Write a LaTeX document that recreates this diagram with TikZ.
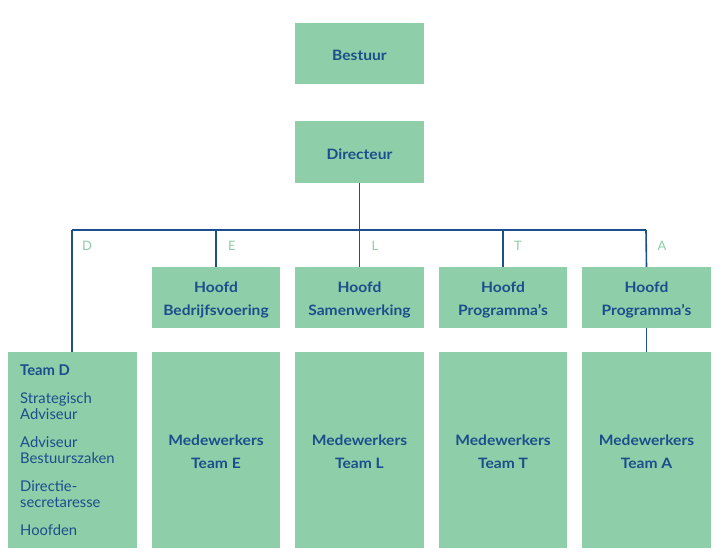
\documentclass[tikz,border=0pt]{standalone}
\usepackage{fontspec}
\setmainfont{Lato}
\newfontfamily\boxfont{Lato}[FakeStretch=1.09]
\definecolor{boxgreen}{RGB}{142,206,168}
\definecolor{navy}{RGB}{27,78,140}
\definecolor{lbl}{RGB}{140,205,165}
\begin{document}
\begin{tikzpicture}[x=1pt,y=-1pt,
  box/.style={fill=boxgreen,draw=none,inner sep=0pt},
  boxtext/.style={inner sep=0pt,text=navy,font=\boxfont\fontsize{14.3}{23}\selectfont\bfseries,align=center},
  conn/.style={draw=navy,line width=1.6pt},
  tag/.style={text=lbl,font=\fontsize{13}{14}\selectfont,anchor=center}]
\useasboundingbox (0,0) rectangle (721,556);
\newcommand{\bx}[6]{\node[box,minimum width=#4-#2,minimum height=#5-#3] (#1) at ({(#2+#4)/2},{(#3+#5)/2}) {};
  \node[boxtext] (#1t) at ([yshift=-2pt]#1.center) {#6};}
\bx{bestuur}{295}{23}{424}{84}{Bestuur}
\bx{dir}{295}{121}{424}{183}{Directeur}
\bx{hE}{152}{267}{280}{328}{Hoofd\\Bedrijfsvoering}
\bx{hL}{295}{267}{424}{328}{Hoofd\\Samenwerking}
\bx{hT}{439}{267}{567}{328}{Hoofd\\Programma’s}
\bx{hA}{582}{267}{711}{328}{Hoofd\\Programma’s}
\node[box,minimum width=129,minimum height=196] (tD) at (72.5,450) {};
\bx{tE}{152}{352}{280}{548}{Medewerkers\\Team E}
\bx{tL}{295}{352}{424}{548}{Medewerkers\\Team L}
\bx{tT}{439}{352}{567}{548}{Medewerkers\\Team T}
\bx{tA}{582}{352}{711}{548}{Medewerkers\\Team A}
\node[anchor=north west,inner sep=0pt,text=navy,align=left,font=\fontsize{14.8}{16.5}\selectfont] (tDtxt) at (20,365)
 {\textbf{Team D}\\[11pt]Strategisch\\Adviseur\\[11pt]Adviseur\\Bestuurszaken\\[11pt]Directie-\\secretaresse\\[11pt]Hoofden};
\coordinate (busD) at (72,230);
\coordinate (busA) at (646,230);
\coordinate (busL) at (dir.south |- busD);
\draw[conn] (dir.south) -- (busL);
\draw[conn] (busD) -- (busA);
\draw[conn] (busD) -- (busD |- tD.north);
\draw[conn] (hE.north |- busD) -- (hE.north);
\draw[conn] (hL.north |- busD) -- (hL.north);
\draw[conn] (hT.north |- busD) -- (hT.north);
\draw[conn] (busA) -- (hA.north);
\draw[conn] (hA.south) -- (tA.north);
\node[tag] (lD) at (87,246) {D};
\node[tag] (lE) at (232,246) {E};
\node[tag] (lL) at (375,246) {L};
\node[tag] (lT) at (518,246) {T};
\node[tag] (lA) at (662,246) {A};
\end{tikzpicture}
\end{document}
